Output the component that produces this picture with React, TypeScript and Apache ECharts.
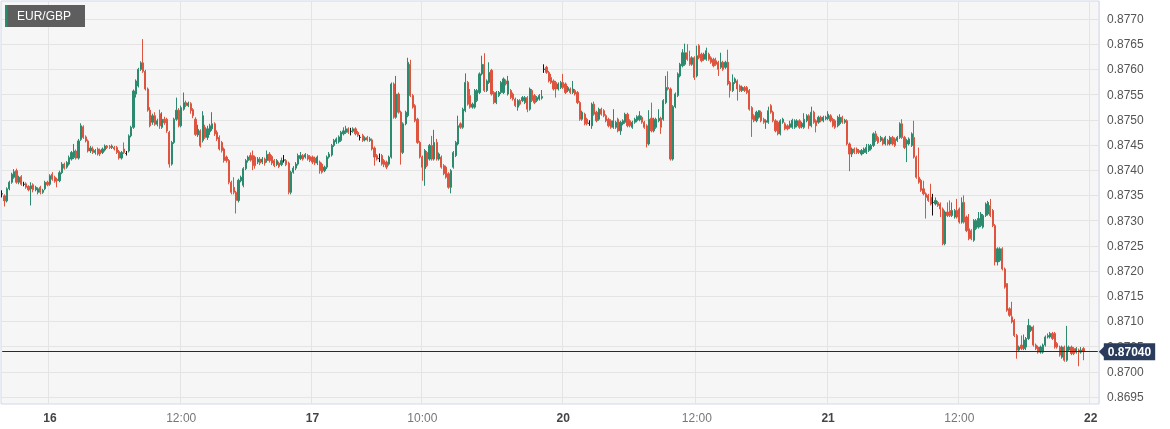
import React, { useEffect, useRef } from "react";
import * as echarts from "echarts";

// ---- data: [open, close, low, high] per candle ----
const SYMBOL = "EUR/GBP";

const ohlcPart1: number[][] = [
  [0.87353,0.87353,0.87346,0.87360],[0.87349,0.87339,0.87328,0.87352],[0.87339,0.87363,0.87336,0.87366],[0.87363,0.87376,0.87360,0.87379],
  [0.87376,0.87392,0.87373,0.87395],[0.87386,0.87397,0.87383,0.87402],[0.87399,0.87376,0.87373,0.87403],[0.87376,0.87386,0.87372,0.87389],
  [0.87387,0.87372,0.87369,0.87390],[0.87372,0.87372,0.87368,0.87377],[0.87373,0.87366,0.87363,0.87376],[0.87368,0.87361,0.87358,0.87370],
  [0.87363,0.87369,0.87330,0.87376],[0.87371,0.87361,0.87356,0.87374],[0.87361,0.87366,0.87358,0.87369],[0.87356,0.87363,0.87352,0.87366],
  [0.87366,0.87356,0.87352,0.87369],[0.87356,0.87360,0.87353,0.87363],[0.87363,0.87376,0.87360,0.87379],[0.87376,0.87371,0.87368,0.87379],
  [0.87372,0.87389,0.87369,0.87392],[0.87392,0.87382,0.87379,0.87396],[0.87386,0.87378,0.87375,0.87389],[0.87382,0.87379,0.87366,0.87385],
  [0.87379,0.87395,0.87376,0.87399],[0.87395,0.87412,0.87392,0.87416],[0.87412,0.87404,0.87401,0.87415],[0.87406,0.87415,0.87403,0.87418],
  [0.87412,0.87425,0.87409,0.87429],[0.87422,0.87435,0.87419,0.87438],[0.87425,0.87438,0.87422,0.87452],[0.87438,0.87424,0.87421,0.87441],
  [0.87424,0.87458,0.87421,0.87462],[0.87461,0.87488,0.87458,0.87493],[0.87486,0.87465,0.87462,0.87489],[0.87466,0.87458,0.87455,0.87469],
  [0.87458,0.87438,0.87435,0.87461],[0.87438,0.87444,0.87434,0.87448],[0.87442,0.87435,0.87432,0.87447],[0.87435,0.87439,0.87431,0.87442],
  [0.87442,0.87432,0.87429,0.87445],[0.87440,0.87432,0.87428,0.87443],[0.87435,0.87442,0.87432,0.87445],[0.87440,0.87448,0.87437,0.87451],
  [0.87448,0.87445,0.87442,0.87450],[0.87447,0.87445,0.87442,0.87450],[0.87445,0.87448,0.87442,0.87451],[0.87445,0.87442,0.87439,0.87448],
  [0.87445,0.87435,0.87432,0.87448],[0.87437,0.87424,0.87421,0.87440],[0.87424,0.87435,0.87421,0.87438],[0.87442,0.87435,0.87432,0.87455],
  [0.87433,0.87433,0.87429,0.87438],[0.87438,0.87468,0.87435,0.87471],[0.87468,0.87485,0.87465,0.87488],[0.87485,0.87557,0.87482,0.87560],
  [0.87551,0.87577,0.87544,0.87580],[0.87567,0.87600,0.87564,0.87603],[0.87600,0.87613,0.87597,0.87616],[0.87613,0.87596,0.87593,0.87660],
  [0.87596,0.87561,0.87558,0.87599],[0.87561,0.87519,0.87516,0.87564],[0.87519,0.87488,0.87485,0.87525],[0.87495,0.87508,0.87490,0.87512],
  [0.87508,0.87491,0.87488,0.87515],[0.87491,0.87498,0.87487,0.87502],[0.87512,0.87488,0.87482,0.87520],[0.87485,0.87501,0.87482,0.87515],
  [0.87501,0.87494,0.87490,0.87506],[0.87501,0.87478,0.87474,0.87504],[0.87475,0.87412,0.87405,0.87478],[0.87412,0.87455,0.87409,0.87458],
  [0.87455,0.87501,0.87452,0.87504],[0.87501,0.87519,0.87498,0.87544],[0.87519,0.87488,0.87485,0.87523],[0.87488,0.87524,0.87485,0.87528],
  [0.87521,0.87534,0.87518,0.87554],[0.87534,0.87528,0.87525,0.87538],[0.87528,0.87533,0.87525,0.87536],[0.87532,0.87518,0.87512,0.87535],
  [0.87520,0.87508,0.87503,0.87523],[0.87501,0.87471,0.87468,0.87505],[0.87470,0.87481,0.87466,0.87490],[0.87478,0.87448,0.87445,0.87481],
];

const ohlcPart2: number[][] = [
  [0.87459,0.87508,0.87455,0.87517],[0.87485,0.87465,0.87462,0.87490],[0.87465,0.87482,0.87460,0.87488],[0.87476,0.87488,0.87470,0.87492],
  [0.87482,0.87492,0.87478,0.87515],[0.87492,0.87472,0.87468,0.87495],[0.87475,0.87462,0.87458,0.87479],[0.87465,0.87442,0.87439,0.87469],
  [0.87455,0.87439,0.87435,0.87458],[0.87442,0.87419,0.87415,0.87445],[0.87426,0.87419,0.87415,0.87429],[0.87419,0.87376,0.87372,0.87422],
  [0.87376,0.87356,0.87352,0.87379],[0.87366,0.87356,0.87352,0.87386],[0.87356,0.87340,0.87314,0.87359],[0.87340,0.87380,0.87336,0.87383],
  [0.87379,0.87386,0.87376,0.87389],[0.87370,0.87403,0.87366,0.87406],[0.87403,0.87419,0.87400,0.87422],[0.87419,0.87426,0.87415,0.87429],
  [0.87429,0.87420,0.87417,0.87435],[0.87429,0.87409,0.87400,0.87439],[0.87426,0.87409,0.87403,0.87429],[0.87416,0.87422,0.87412,0.87426],
  [0.87422,0.87414,0.87410,0.87426],[0.87416,0.87422,0.87412,0.87426],[0.87422,0.87414,0.87409,0.87425],[0.87419,0.87431,0.87415,0.87439],
  [0.87432,0.87419,0.87415,0.87436],[0.87427,0.87414,0.87410,0.87430],[0.87419,0.87409,0.87406,0.87422],[0.87411,0.87419,0.87408,0.87422],
  [0.87414,0.87407,0.87404,0.87417],[0.87411,0.87419,0.87408,0.87425],[0.87420,0.87420,0.87415,0.87430],[0.87419,0.87411,0.87408,0.87422],
  [0.87414,0.87356,0.87352,0.87417],[0.87356,0.87396,0.87352,0.87399],[0.87396,0.87404,0.87393,0.87408],[0.87404,0.87412,0.87400,0.87416],
  [0.87412,0.87429,0.87409,0.87433],[0.87423,0.87429,0.87420,0.87436],[0.87429,0.87422,0.87419,0.87432],[0.87426,0.87431,0.87423,0.87434],
  [0.87429,0.87422,0.87419,0.87432],[0.87427,0.87419,0.87416,0.87430],[0.87426,0.87416,0.87412,0.87429],[0.87424,0.87414,0.87410,0.87427],
  [0.87414,0.87426,0.87410,0.87429],[0.87416,0.87399,0.87393,0.87419],[0.87412,0.87396,0.87393,0.87415],[0.87399,0.87406,0.87396,0.87409],
  [0.87406,0.87426,0.87402,0.87429],[0.87426,0.87432,0.87423,0.87436],[0.87430,0.87449,0.87427,0.87452],[0.87449,0.87459,0.87446,0.87462],
  [0.87456,0.87462,0.87452,0.87465],[0.87456,0.87466,0.87453,0.87469],[0.87459,0.87475,0.87456,0.87478],[0.87472,0.87478,0.87469,0.87485],
  [0.87475,0.87482,0.87472,0.87488],[0.87482,0.87475,0.87472,0.87485],[0.87477,0.87477,0.87469,0.87484],[0.87477,0.87482,0.87474,0.87485],
  [0.87482,0.87472,0.87469,0.87485],[0.87475,0.87469,0.87466,0.87478],[0.87465,0.87465,0.87459,0.87470],[0.87469,0.87459,0.87456,0.87472],
  [0.87460,0.87464,0.87457,0.87467],[0.87465,0.87460,0.87457,0.87468],[0.87459,0.87462,0.87456,0.87466],[0.87460,0.87442,0.87439,0.87463],
  [0.87444,0.87426,0.87409,0.87447],[0.87429,0.87422,0.87419,0.87432],[0.87423,0.87423,0.87416,0.87433],[0.87429,0.87412,0.87409,0.87432],
  [0.87419,0.87411,0.87406,0.87422],[0.87416,0.87406,0.87402,0.87419],[0.87412,0.87426,0.87409,0.87429],
];

const ohlcPart3: number[][] = [
  [0.87426,0.87571,0.87423,0.87574],[0.87571,0.87505,0.87502,0.87574],[0.87505,0.87551,0.87502,0.87587],[0.87551,0.87515,0.87512,0.87554],
  [0.87515,0.87435,0.87411,0.87518],[0.87435,0.87492,0.87432,0.87495],[0.87492,0.87515,0.87489,0.87518],[0.87508,0.87614,0.87505,0.87623],
  [0.87610,0.87548,0.87545,0.87619],[0.87548,0.87525,0.87522,0.87551],[0.87528,0.87498,0.87495,0.87531],[0.87501,0.87455,0.87452,0.87504],
  [0.87455,0.87426,0.87423,0.87458],[0.87426,0.87406,0.87379,0.87429],[0.87403,0.87439,0.87369,0.87442],[0.87435,0.87409,0.87406,0.87438],
  [0.87422,0.87449,0.87419,0.87452],[0.87449,0.87422,0.87419,0.87468],[0.87422,0.87455,0.87419,0.87480],[0.87455,0.87422,0.87419,0.87462],
  [0.87422,0.87432,0.87419,0.87435],[0.87426,0.87406,0.87403,0.87429],[0.87409,0.87393,0.87390,0.87412],[0.87406,0.87386,0.87383,0.87409],
  [0.87393,0.87366,0.87363,0.87396],[0.87366,0.87399,0.87354,0.87402],[0.87406,0.87435,0.87403,0.87438],[0.87429,0.87455,0.87426,0.87458],
  [0.87452,0.87488,0.87449,0.87508],[0.87492,0.87485,0.87482,0.87495],[0.87485,0.87521,0.87482,0.87524],[0.87518,0.87574,0.87515,0.87592],
  [0.87574,0.87531,0.87528,0.87577],[0.87548,0.87525,0.87522,0.87561],[0.87525,0.87531,0.87522,0.87534],[0.87525,0.87558,0.87522,0.87561],
  [0.87538,0.87558,0.87535,0.87561],[0.87554,0.87591,0.87551,0.87594],[0.87591,0.87610,0.87588,0.87627],[0.87610,0.87558,0.87555,0.87632],
  [0.87558,0.87577,0.87555,0.87580],[0.87574,0.87594,0.87571,0.87614],[0.87598,0.87551,0.87548,0.87601],[0.87554,0.87534,0.87531,0.87557],
  [0.87534,0.87554,0.87531,0.87557],[0.87548,0.87554,0.87545,0.87557],[0.87554,0.87574,0.87551,0.87577],[0.87554,0.87581,0.87551,0.87584],
  [0.87577,0.87571,0.87568,0.87580],[0.87551,0.87577,0.87548,0.87587],[0.87558,0.87544,0.87541,0.87561],[0.87551,0.87541,0.87538,0.87554],
  [0.87541,0.87528,0.87525,0.87544],[0.87525,0.87538,0.87518,0.87541],[0.87538,0.87531,0.87528,0.87541],[0.87538,0.87544,0.87535,0.87547],
  [0.87534,0.87544,0.87531,0.87547],[0.87544,0.87521,0.87515,0.87547],[0.87521,0.87561,0.87518,0.87564],[0.87558,0.87538,0.87535,0.87561],
  [0.87548,0.87534,0.87531,0.87551],[0.87538,0.87544,0.87535,0.87547],[0.87541,0.87548,0.87538,0.87551],[0.87543,0.87546,0.87540,0.87559],
  [0.87600,0.87600,0.87593,0.87610],[0.87604,0.87594,0.87591,0.87607],[0.87594,0.87577,0.87574,0.87597],[0.87584,0.87574,0.87571,0.87591],
  [0.87577,0.87561,0.87558,0.87580],[0.87574,0.87561,0.87544,0.87577],[0.87561,0.87571,0.87558,0.87574],[0.87564,0.87574,0.87561,0.87577],
  [0.87574,0.87564,0.87561,0.87591],[0.87571,0.87554,0.87551,0.87574],[0.87558,0.87564,0.87555,0.87567],[0.87561,0.87554,0.87551,0.87564],
  [0.87554,0.87561,0.87551,0.87577],[0.87558,0.87551,0.87548,0.87561],
];

const ohlcPart4: number[][] = [
  [0.87554,0.87534,0.87531,0.87557],[0.87534,0.87501,0.87498,0.87537],[0.87501,0.87515,0.87498,0.87518],[0.87511,0.87492,0.87489,0.87514],
  [0.87501,0.87492,0.87489,0.87504],[0.87493,0.87493,0.87488,0.87499],[0.87488,0.87531,0.87482,0.87534],[0.87531,0.87511,0.87508,0.87536],
  [0.87515,0.87498,0.87495,0.87518],[0.87501,0.87521,0.87498,0.87524],[0.87521,0.87511,0.87508,0.87524],[0.87518,0.87508,0.87505,0.87521],
  [0.87508,0.87498,0.87495,0.87511],[0.87501,0.87488,0.87485,0.87504],[0.87498,0.87485,0.87482,0.87501],[0.87485,0.87498,0.87482,0.87521],
  [0.87485,0.87495,0.87482,0.87498],[0.87501,0.87478,0.87475,0.87504],[0.87478,0.87495,0.87470,0.87498],[0.87492,0.87498,0.87489,0.87501],
  [0.87495,0.87511,0.87492,0.87514],[0.87511,0.87488,0.87485,0.87514],[0.87498,0.87488,0.87485,0.87501],[0.87485,0.87495,0.87482,0.87498],
  [0.87495,0.87501,0.87492,0.87504],[0.87498,0.87506,0.87495,0.87509],[0.87500,0.87508,0.87497,0.87517],[0.87505,0.87495,0.87492,0.87508],
  [0.87495,0.87485,0.87482,0.87498],[0.87488,0.87452,0.87445,0.87491],[0.87452,0.87501,0.87449,0.87519],[0.87503,0.87478,0.87475,0.87534],
  [0.87478,0.87501,0.87475,0.87504],[0.87485,0.87501,0.87482,0.87504],[0.87498,0.87503,0.87495,0.87521],[0.87503,0.87485,0.87472,0.87506],
  [0.87501,0.87538,0.87498,0.87541],[0.87534,0.87564,0.87531,0.87587],[0.87564,0.87561,0.87558,0.87596],[0.87561,0.87422,0.87419,0.87564],
  [0.87422,0.87526,0.87419,0.87529],[0.87526,0.87551,0.87523,0.87554],[0.87548,0.87591,0.87545,0.87594],[0.87587,0.87610,0.87584,0.87613],
  [0.87607,0.87633,0.87604,0.87640],[0.87610,0.87633,0.87607,0.87651],[0.87633,0.87620,0.87617,0.87650],[0.87623,0.87610,0.87607,0.87637],
  [0.87610,0.87623,0.87607,0.87626],[0.87623,0.87584,0.87579,0.87626],[0.87587,0.87627,0.87584,0.87647],[0.87647,0.87623,0.87620,0.87650],
  [0.87630,0.87617,0.87614,0.87633],[0.87620,0.87630,0.87617,0.87633],[0.87620,0.87637,0.87617,0.87643],[0.87630,0.87620,0.87617,0.87633],
  [0.87623,0.87614,0.87611,0.87626],[0.87620,0.87607,0.87604,0.87623],[0.87617,0.87610,0.87607,0.87623],[0.87614,0.87600,0.87587,0.87617],
  [0.87604,0.87614,0.87601,0.87633],[0.87614,0.87600,0.87597,0.87617],[0.87604,0.87614,0.87601,0.87617],[0.87614,0.87571,0.87568,0.87639],
  [0.87574,0.87558,0.87544,0.87577],[0.87558,0.87574,0.87555,0.87590],[0.87574,0.87581,0.87571,0.87584],[0.87577,0.87561,0.87538,0.87580],
  [0.87567,0.87558,0.87555,0.87570],[0.87558,0.87565,0.87555,0.87568],[0.87564,0.87558,0.87555,0.87567],[0.87564,0.87554,0.87551,0.87567],
  [0.87558,0.87521,0.87518,0.87561],[0.87524,0.87501,0.87466,0.87527],[0.87508,0.87498,0.87495,0.87511],[0.87498,0.87515,0.87495,0.87518],
  [0.87505,0.87518,0.87502,0.87519],[0.87515,0.87498,0.87495,0.87518],[0.87501,0.87495,0.87492,0.87504],[0.87495,0.87498,0.87482,0.87501],
];

const ohlcPart5: number[][] = [
  [0.87495,0.87518,0.87492,0.87526],[0.87528,0.87515,0.87512,0.87531],[0.87515,0.87498,0.87495,0.87518],[0.87498,0.87478,0.87475,0.87501],
  [0.87495,0.87472,0.87469,0.87498],[0.87472,0.87498,0.87469,0.87501],[0.87495,0.87501,0.87492,0.87504],[0.87492,0.87482,0.87479,0.87495],
  [0.87488,0.87482,0.87479,0.87491],[0.87485,0.87492,0.87482,0.87498],[0.87485,0.87499,0.87482,0.87502],[0.87485,0.87498,0.87482,0.87501],
  [0.87488,0.87498,0.87485,0.87501],[0.87498,0.87485,0.87482,0.87501],[0.87486,0.87493,0.87483,0.87496],[0.87485,0.87501,0.87482,0.87513],
  [0.87498,0.87508,0.87495,0.87511],[0.87508,0.87488,0.87482,0.87511],[0.87488,0.87515,0.87485,0.87526],[0.87515,0.87495,0.87492,0.87518],
  [0.87498,0.87488,0.87475,0.87501],[0.87495,0.87505,0.87492,0.87508],[0.87505,0.87498,0.87495,0.87508],[0.87498,0.87505,0.87495,0.87508],
  [0.87502,0.87505,0.87499,0.87508],[0.87502,0.87511,0.87499,0.87517],[0.87508,0.87498,0.87495,0.87511],[0.87501,0.87488,0.87485,0.87504],
  [0.87498,0.87485,0.87482,0.87501],[0.87488,0.87505,0.87485,0.87508],[0.87492,0.87505,0.87489,0.87511],[0.87505,0.87495,0.87492,0.87508],
  [0.87495,0.87499,0.87492,0.87502],[0.87498,0.87452,0.87449,0.87501],[0.87452,0.87432,0.87398,0.87455],[0.87432,0.87442,0.87426,0.87445],
  [0.87442,0.87435,0.87432,0.87445],[0.87442,0.87435,0.87432,0.87445],[0.87439,0.87435,0.87432,0.87442],[0.87432,0.87439,0.87429,0.87442],
  [0.87435,0.87442,0.87432,0.87445],[0.87435,0.87445,0.87432,0.87452],[0.87439,0.87449,0.87436,0.87452],[0.87442,0.87449,0.87439,0.87452],
  [0.87449,0.87472,0.87446,0.87475],[0.87472,0.87459,0.87456,0.87478],[0.87465,0.87455,0.87452,0.87468],[0.87459,0.87465,0.87456,0.87468],
  [0.87462,0.87452,0.87449,0.87465],[0.87452,0.87465,0.87449,0.87468],[0.87459,0.87452,0.87449,0.87462],[0.87452,0.87465,0.87449,0.87468],
  [0.87465,0.87452,0.87449,0.87468],[0.87462,0.87449,0.87446,0.87465],[0.87459,0.87465,0.87456,0.87468],[0.87465,0.87492,0.87462,0.87495],
  [0.87492,0.87465,0.87462,0.87501],[0.87465,0.87445,0.87442,0.87468],[0.87452,0.87459,0.87416,0.87462],[0.87452,0.87462,0.87449,0.87465],
  [0.87449,0.87472,0.87446,0.87475],[0.87465,0.87426,0.87423,0.87498],[0.87426,0.87386,0.87383,0.87429],[0.87386,0.87376,0.87373,0.87445],
  [0.87380,0.87360,0.87357,0.87383],[0.87363,0.87353,0.87350,0.87379],[0.87353,0.87346,0.87304,0.87356],[0.87350,0.87340,0.87337,0.87353],
  [0.87346,0.87333,0.87330,0.87373],[0.87336,0.87336,0.87310,0.87353],[0.87333,0.87340,0.87330,0.87346],[0.87336,0.87330,0.87327,0.87339],
  [0.87333,0.87323,0.87307,0.87336],
];

const ohlcPart6: number[][] = [
  [0.87323,0.87254,0.87251,0.87326],[0.87254,0.87317,0.87251,0.87320],[0.87317,0.87310,0.87307,0.87336],[0.87320,0.87310,0.87307,0.87340],
  [0.87310,0.87320,0.87307,0.87336],[0.87307,0.87320,0.87304,0.87323],[0.87320,0.87307,0.87304,0.87343],[0.87323,0.87297,0.87294,0.87326],
  [0.87297,0.87336,0.87294,0.87346],[0.87336,0.87297,0.87294,0.87350],[0.87307,0.87280,0.87277,0.87310],[0.87284,0.87264,0.87261,0.87313],
  [0.87280,0.87264,0.87261,0.87283],[0.87261,0.87300,0.87258,0.87303],[0.87284,0.87300,0.87281,0.87303],[0.87287,0.87304,0.87284,0.87317],
  [0.87290,0.87313,0.87287,0.87317],[0.87287,0.87310,0.87284,0.87313],[0.87310,0.87333,0.87307,0.87336],[0.87313,0.87336,0.87310,0.87339],
  [0.87330,0.87310,0.87307,0.87343],[0.87320,0.87290,0.87287,0.87323],[0.87290,0.87218,0.87211,0.87293],[0.87218,0.87244,0.87211,0.87247],
  [0.87221,0.87244,0.87218,0.87247],[0.87244,0.87204,0.87201,0.87247],[0.87204,0.87168,0.87165,0.87207],[0.87175,0.87122,0.87119,0.87175],
  [0.87125,0.87112,0.87109,0.87128],[0.87109,0.87099,0.87096,0.87139],[0.87102,0.87072,0.87069,0.87105],[0.87072,0.87043,0.87026,0.87075],
  [0.87043,0.87049,0.87039,0.87052],[0.87053,0.87046,0.87043,0.87072],[0.87046,0.87063,0.87043,0.87074],[0.87049,0.87066,0.87043,0.87069],
  [0.87066,0.87092,0.87063,0.87105],[0.87082,0.87089,0.87079,0.87092],[0.87089,0.87053,0.87050,0.87092],[0.87053,0.87046,0.87043,0.87056],
  [0.87049,0.87039,0.87036,0.87052],[0.87039,0.87049,0.87036,0.87052],[0.87039,0.87053,0.87036,0.87056],[0.87053,0.87069,0.87050,0.87072],
  [0.87069,0.87072,0.87066,0.87076],[0.87069,0.87076,0.87066,0.87079],[0.87076,0.87066,0.87063,0.87079],[0.87076,0.87049,0.87046,0.87079],
  [0.87056,0.87049,0.87046,0.87059],[0.87049,0.87033,0.87030,0.87052],[0.87029,0.87049,0.87026,0.87052],[0.87049,0.87023,0.87020,0.87052],
  [0.87023,0.87049,0.87020,0.87091],[0.87043,0.87049,0.87040,0.87052],[0.87049,0.87036,0.87033,0.87052],[0.87046,0.87036,0.87033,0.87049],
  [0.87039,0.87046,0.87036,0.87049],[0.87043,0.87039,0.87011,0.87046],[0.87039,0.87043,0.87036,0.87049],[0.87046,0.87040,0.87023,0.87049],
];

// time axis: number of candle slots and where the date / time ticks fall
const SLOT_COUNT = 460;
const tickSlots = [20, 75, 130, 176, 235, 291, 346, 401, 456];
const tickLabels = ["16", "12:00", "17", "10:00", "20", "12:00", "21", "12:00", "22"];
const tickIsDay = [true, false, true, false, true, false, true, false, true];

// price axis
const priceTicks = [0.8695, 0.87, 0.8705, 0.871, 0.8715, 0.872, 0.8725, 0.873, 0.8735, 0.874, 0.8745, 0.875, 0.8755, 0.876, 0.8765, 0.877];
const PRICE_MIN = 0.869361;
const PRICE_MAX = 0.877356;

const UP = "#2c8a6e";
const DOWN = "#df543f";
const TAG = "#2a3b5c";
const FONT = "'Liberation Sans', Arial, Helvetica, sans-serif";

export default function App() {
  const ref = useRef<HTMLDivElement>(null);

  useEffect(() => {
    if (!ref.current) return;
    const chart = echarts.init(ref.current, undefined, { renderer: "svg" });

    const candles = [...ohlcPart1, ...ohlcPart2, ...ohlcPart3, ...ohlcPart4, ...ohlcPart5, ...ohlcPart6];
    const lastClose = candles[candles.length - 1][1];
    const categories = Array.from({ length: SLOT_COUNT }, (_, i) => String(i));
    const tickSet = new Set(tickSlots);
    const showTick = (i: number) => tickSet.has(i);

    chart.setOption({
      animation: false,
      textStyle: { fontFamily: FONT },
      grid: {
        left: 1,
        top: 1,
        right: 71,
        bottom: 25,
        show: true,
        backgroundColor: "#f6f6f6",
        borderColor: "#d2d8ea",
        borderWidth: 1,
      },
      graphic: [
        {
          type: "group",
          left: 5,
          top: 5,
          z: 100,
          zlevel: 1,
          children: [
            { type: "rect", z: 100, zlevel: 1, shape: { x: 0, y: 0, width: 80, height: 22 }, style: { fill: "#5e5e5e" } },
            { type: "rect", z: 101, zlevel: 1, shape: { x: 0, y: 0, width: 2.5, height: 22 }, style: { fill: UP } },
            {
              type: "text",
              z: 102,
              zlevel: 1,
              x: 12,
              y: 11,
              style: { text: SYMBOL, fill: "#ffffff", fontSize: 12, fontFamily: FONT, verticalAlign: "middle", align: "left" },
            },
          ],
        },
      ],
      xAxis: {
        type: "category",
        data: categories,
        boundaryGap: true,
        axisLine: { show: false },
        axisTick: { show: false },
        axisLabel: {
          interval: (i: number) => showTick(i),
          margin: 8,
          formatter: (_v: string, i: number) => {
            const k = tickSlots.indexOf(i);
            if (k < 0) return "";
            return tickIsDay[k] ? `{d|${tickLabels[k]}}` : `{t|${tickLabels[k]}}`;
          },
          rich: {
            d: { fontSize: 12, fontWeight: "bold", color: "#444", fontFamily: FONT },
            t: { fontSize: 12, color: "#777", fontFamily: FONT },
          },
        },
        splitLine: {
          show: true,
          interval: (i: number) => showTick(i),
          lineStyle: { color: "#e4e4e4", width: 1 },
        },
      },
      yAxis: {
        type: "value",
        position: "right",
        scale: true,
        min: PRICE_MIN,
        max: PRICE_MAX,
        axisLine: { show: false },
        axisTick: { show: false, customValues: priceTicks },
        axisLabel: {
          customValues: priceTicks,
          margin: 8,
          color: "#555",
          fontSize: 12,
          fontFamily: FONT,
          formatter: (v: number) => v.toFixed(4),
        },
        splitLine: { show: true, lineStyle: { color: "#e4e4e4", width: 1 } },
      },
      series: [
        {
          type: "candlestick",
          data: candles,
          barWidth: "70%",
          clip: false,
          itemStyle: {
            color: UP,
            color0: DOWN,
            borderColor: UP,
            borderColor0: DOWN,
            borderColorDoji: "#111",
            borderWidth: 1,
          },
          markLine: {
            silent: true,
            symbol: ["none", "none"],
            animation: false,
            data: [[{ coord: [0, lastClose] }, { coord: [SLOT_COUNT - 1, lastClose] }]],
            lineStyle: { color: "#1e2c4a", width: 1, type: "solid" },
            label: {
              show: true,
              position: "end",
              distance: 6,
              formatter: () => lastClose.toFixed(5),
              color: "#ffffff",
              fontWeight: "bold",
              fontSize: 12,
              fontFamily: FONT,
              backgroundColor: TAG,
              padding: [3, 4, 2, 4],
            },
          },
          markPoint: {
            silent: true,
            animation: false,
            label: { show: false },
            data: [
              {
                coord: [SLOT_COUNT - 1, lastClose],
                symbol: "triangle",
                symbolSize: [12, 6],
                symbolRotate: 90,
                symbolOffset: [4, 0],
                itemStyle: { color: TAG },
              },
            ],
          },
        },
      ],
    });

    return () => chart.dispose();
  }, []);

  return <div ref={ref} style={{ position: "fixed", left: 0, top: 0, width: 1170, height: 429 }} />;
}
